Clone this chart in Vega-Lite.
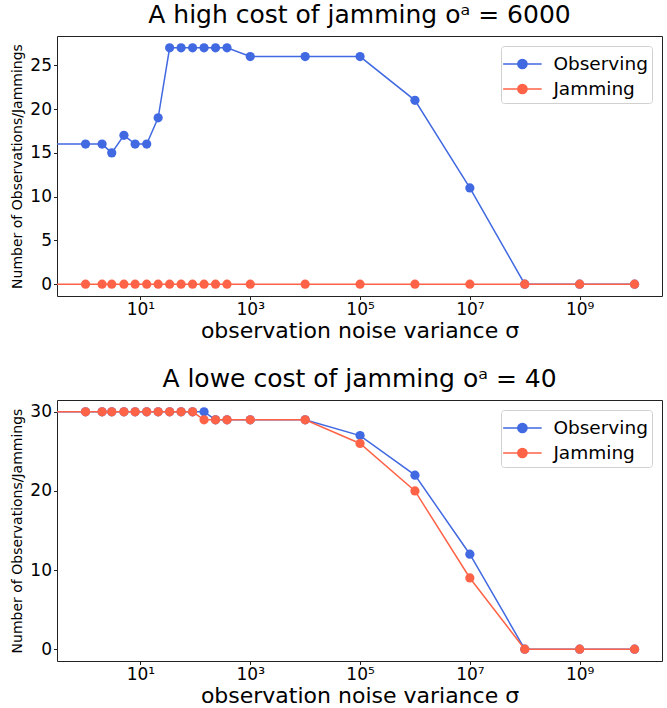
{
  "$schema": "https://vega.github.io/schema/vega-lite/v6.json",
  "padding": {"left": 10, "top": 2, "right": 3, "bottom": 0},
  "config": {
    "font": "DejaVu Sans",
    "view": {"stroke": "#222", "strokeWidth": 1},
    "axis": {"grid": false, "domain": false, "tickColor": "#222", "tickSize": 3.5, "labelColor": "#000", "titleColor": "#000", "labelFont": "DejaVu Sans", "titleFont": "DejaVu Sans", "labelFontSize": 17, "titleFontWeight": "normal", "labelPadding": 2},
    "title": {"fontSize": 25, "fontWeight": "normal", "font": "DejaVu Sans", "color": "#000", "offset": 8},
    "legend": {"orient": "top-right", "offset": 10, "padding": 4, "strokeColor": "#d0d0d0", "fillColor": "white", "cornerRadius": 3, "labelFontSize": 18.5, "labelFont": "DejaVu Sans", "labelColor": "#000", "rowPadding": 1, "labelOffset": 17, "symbolOffset": 3.4, "symbolType": "M-1.5,0H1.5M-0.36,0A0.36,0.36,0,1,1,0.36,0A0.36,0.36,0,1,1,-0.36,0Z", "symbolSize": 660, "symbolStrokeWidth": 1.5},
    "concat": {"spacing": 24}
  },
  "resolve": {"scale": {"color": "independent"}, "legend": {"color": "independent"}},
  "vconcat": [
    {
      "title": "A high cost of jamming oᵃ = 6000",
      "width": 605,
      "height": 260,
      "data": {"values": [
        {"sigma": 0.01, "count": 16, "series": "Observing"},
        {"sigma": 1, "count": 16, "series": "Observing"},
        {"sigma": 2, "count": 16, "series": "Observing"},
        {"sigma": 3, "count": 15, "series": "Observing"},
        {"sigma": 5, "count": 17, "series": "Observing"},
        {"sigma": 8, "count": 16, "series": "Observing"},
        {"sigma": 13, "count": 16, "series": "Observing"},
        {"sigma": 21, "count": 19, "series": "Observing"},
        {"sigma": 34, "count": 27, "series": "Observing"},
        {"sigma": 55, "count": 27, "series": "Observing"},
        {"sigma": 89, "count": 27, "series": "Observing"},
        {"sigma": 144, "count": 27, "series": "Observing"},
        {"sigma": 233, "count": 27, "series": "Observing"},
        {"sigma": 377, "count": 27, "series": "Observing"},
        {"sigma": 1000, "count": 26, "series": "Observing"},
        {"sigma": 10000, "count": 26, "series": "Observing"},
        {"sigma": 100000, "count": 26, "series": "Observing"},
        {"sigma": 1000000, "count": 21, "series": "Observing"},
        {"sigma": 10000000, "count": 11, "series": "Observing"},
        {"sigma": 100000000, "count": 0, "series": "Observing"},
        {"sigma": 1000000000, "count": 0, "series": "Observing"},
        {"sigma": 10000000000, "count": 0, "series": "Observing"},
        {"sigma": 0.01, "count": 0, "series": "Jamming"},
        {"sigma": 1, "count": 0, "series": "Jamming"},
        {"sigma": 2, "count": 0, "series": "Jamming"},
        {"sigma": 3, "count": 0, "series": "Jamming"},
        {"sigma": 5, "count": 0, "series": "Jamming"},
        {"sigma": 8, "count": 0, "series": "Jamming"},
        {"sigma": 13, "count": 0, "series": "Jamming"},
        {"sigma": 21, "count": 0, "series": "Jamming"},
        {"sigma": 34, "count": 0, "series": "Jamming"},
        {"sigma": 55, "count": 0, "series": "Jamming"},
        {"sigma": 89, "count": 0, "series": "Jamming"},
        {"sigma": 144, "count": 0, "series": "Jamming"},
        {"sigma": 233, "count": 0, "series": "Jamming"},
        {"sigma": 377, "count": 0, "series": "Jamming"},
        {"sigma": 1000, "count": 0, "series": "Jamming"},
        {"sigma": 10000, "count": 0, "series": "Jamming"},
        {"sigma": 100000, "count": 0, "series": "Jamming"},
        {"sigma": 1000000, "count": 0, "series": "Jamming"},
        {"sigma": 10000000, "count": 0, "series": "Jamming"},
        {"sigma": 100000000, "count": 0, "series": "Jamming"},
        {"sigma": 1000000000, "count": 0, "series": "Jamming"},
        {"sigma": 10000000000, "count": 0, "series": "Jamming"}
      ]},
      "encoding": {
        "x": {"field": "sigma", "type": "quantitative", "scale": {"type": "log", "domain": [0.302, 31600000000], "nice": false}, "axis": {"values": [10, 1000, 100000, 10000000, 1000000000], "labelExpr": "'10' + ['⁰','¹','²','³','⁴','⁵','⁶','⁷','⁸','⁹'][round(log(datum.value)/LN10)]", "title": "observation noise variance σ", "titleFontSize": 22, "titlePadding": 3}},
        "y": {"field": "count", "type": "quantitative", "scale": {"domain": [-1.35, 28.35], "nice": false, "zero": false}, "axis": {"values": [0, 5, 10, 15, 20, 25], "title": "Number of Observations/Jammings", "titleFontSize": 14, "titlePadding": 5}},
        "color": {"field": "series", "type": "nominal", "scale": {"domain": ["Observing", "Jamming"], "range": ["#4169E1", "#FF6347"]}, "legend": {"title": null, "encode": {"symbols": {"update": {"fill": {"signal": "datum.value === 'Observing' ? '#4169E1' : '#FF6347'"}, "stroke": {"signal": "datum.value === 'Observing' ? '#4169E1' : '#FF6347'"}, "opacity": {"value": 1}}}}}}
      },
      "layer": [
        {"transform": [{"filter": "datum.series === 'Observing'"}], "mark": {"type": "line", "clip": true, "strokeWidth": 1.5}},
        {"transform": [{"filter": "datum.series === 'Observing'"}], "mark": {"type": "point", "filled": true, "opacity": 1, "size": 85, "clip": true}},
        {"transform": [{"filter": "datum.series === 'Jamming'"}], "mark": {"type": "line", "clip": true, "strokeWidth": 1.5}},
        {"transform": [{"filter": "datum.series === 'Jamming'"}], "mark": {"type": "point", "filled": true, "opacity": 1, "size": 85, "clip": true}}
      ]
    },
    {
      "title": "A lowe cost of jamming oᵃ = 40",
      "width": 605,
      "height": 261,
      "data": {"values": [
        {"sigma": 0.01, "count": 30, "series": "Observing"},
        {"sigma": 1, "count": 30, "series": "Observing"},
        {"sigma": 2, "count": 30, "series": "Observing"},
        {"sigma": 3, "count": 30, "series": "Observing"},
        {"sigma": 5, "count": 30, "series": "Observing"},
        {"sigma": 8, "count": 30, "series": "Observing"},
        {"sigma": 13, "count": 30, "series": "Observing"},
        {"sigma": 21, "count": 30, "series": "Observing"},
        {"sigma": 34, "count": 30, "series": "Observing"},
        {"sigma": 55, "count": 30, "series": "Observing"},
        {"sigma": 89, "count": 30, "series": "Observing"},
        {"sigma": 144, "count": 30, "series": "Observing"},
        {"sigma": 233, "count": 29, "series": "Observing"},
        {"sigma": 377, "count": 29, "series": "Observing"},
        {"sigma": 1000, "count": 29, "series": "Observing"},
        {"sigma": 10000, "count": 29, "series": "Observing"},
        {"sigma": 100000, "count": 27, "series": "Observing"},
        {"sigma": 1000000, "count": 22, "series": "Observing"},
        {"sigma": 10000000, "count": 12, "series": "Observing"},
        {"sigma": 100000000, "count": 0, "series": "Observing"},
        {"sigma": 1000000000, "count": 0, "series": "Observing"},
        {"sigma": 10000000000, "count": 0, "series": "Observing"},
        {"sigma": 0.01, "count": 30, "series": "Jamming"},
        {"sigma": 1, "count": 30, "series": "Jamming"},
        {"sigma": 2, "count": 30, "series": "Jamming"},
        {"sigma": 3, "count": 30, "series": "Jamming"},
        {"sigma": 5, "count": 30, "series": "Jamming"},
        {"sigma": 8, "count": 30, "series": "Jamming"},
        {"sigma": 13, "count": 30, "series": "Jamming"},
        {"sigma": 21, "count": 30, "series": "Jamming"},
        {"sigma": 34, "count": 30, "series": "Jamming"},
        {"sigma": 55, "count": 30, "series": "Jamming"},
        {"sigma": 89, "count": 30, "series": "Jamming"},
        {"sigma": 144, "count": 29, "series": "Jamming"},
        {"sigma": 233, "count": 29, "series": "Jamming"},
        {"sigma": 377, "count": 29, "series": "Jamming"},
        {"sigma": 1000, "count": 29, "series": "Jamming"},
        {"sigma": 10000, "count": 29, "series": "Jamming"},
        {"sigma": 100000, "count": 26, "series": "Jamming"},
        {"sigma": 1000000, "count": 20, "series": "Jamming"},
        {"sigma": 10000000, "count": 9, "series": "Jamming"},
        {"sigma": 100000000, "count": 0, "series": "Jamming"},
        {"sigma": 1000000000, "count": 0, "series": "Jamming"},
        {"sigma": 10000000000, "count": 0, "series": "Jamming"}
      ]},
      "encoding": {
        "x": {"field": "sigma", "type": "quantitative", "scale": {"type": "log", "domain": [0.302, 31600000000], "nice": false}, "axis": {"values": [10, 1000, 100000, 10000000, 1000000000], "labelExpr": "'10' + ['⁰','¹','²','³','⁴','⁵','⁶','⁷','⁸','⁹'][round(log(datum.value)/LN10)]", "title": "observation noise variance σ", "titleFontSize": 22, "titlePadding": 3}},
        "y": {"field": "count", "type": "quantitative", "scale": {"domain": [-1.5, 31.5], "nice": false, "zero": false}, "axis": {"values": [0, 10, 20, 30], "title": "Number of Observations/Jammings", "titleFontSize": 14, "titlePadding": 5}},
        "color": {"field": "series", "type": "nominal", "scale": {"domain": ["Observing", "Jamming"], "range": ["#4169E1", "#FF6347"]}, "legend": {"title": null, "encode": {"symbols": {"update": {"fill": {"signal": "datum.value === 'Observing' ? '#4169E1' : '#FF6347'"}, "stroke": {"signal": "datum.value === 'Observing' ? '#4169E1' : '#FF6347'"}, "opacity": {"value": 1}}}}}}
      },
      "layer": [
        {"transform": [{"filter": "datum.series === 'Observing'"}], "mark": {"type": "line", "clip": true, "strokeWidth": 1.5}},
        {"transform": [{"filter": "datum.series === 'Observing'"}], "mark": {"type": "point", "filled": true, "opacity": 1, "size": 85, "clip": true}},
        {"transform": [{"filter": "datum.series === 'Jamming'"}], "mark": {"type": "line", "clip": true, "strokeWidth": 1.5}},
        {"transform": [{"filter": "datum.series === 'Jamming'"}], "mark": {"type": "point", "filled": true, "opacity": 1, "size": 85, "clip": true}}
      ]
    }
  ]
}
